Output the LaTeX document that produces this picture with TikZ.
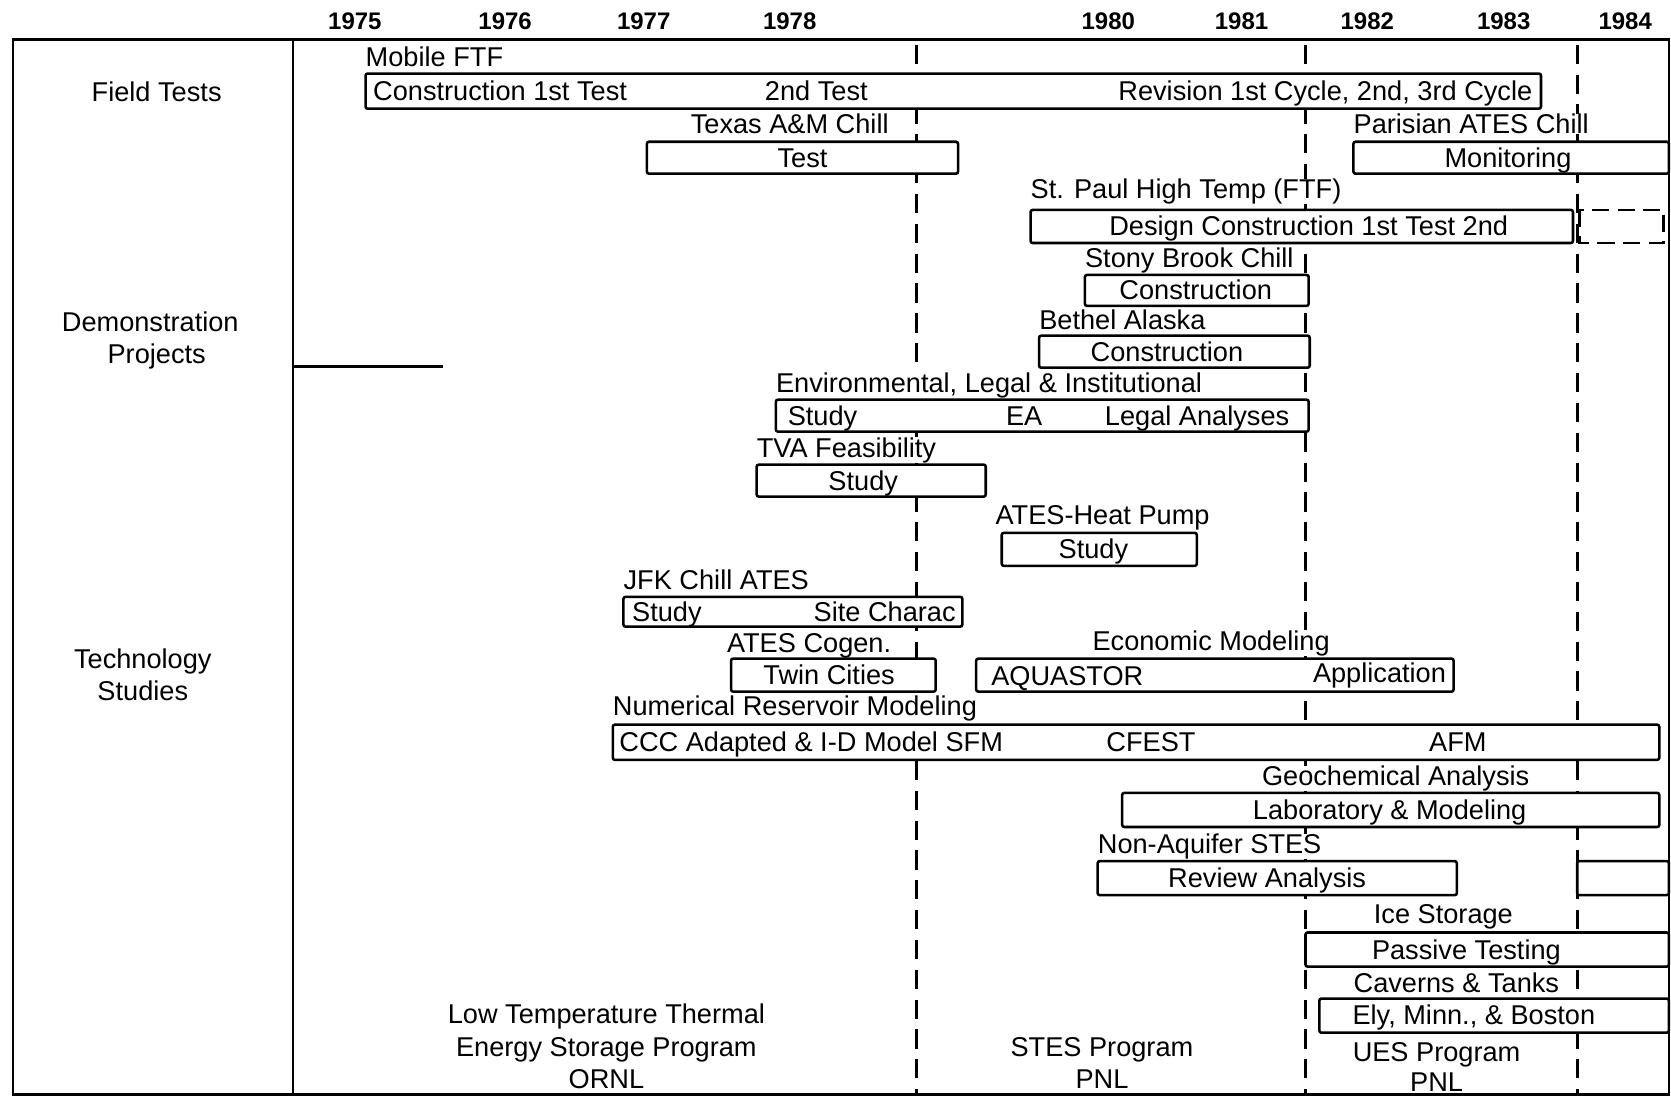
\documentclass[tikz,border=0pt]{standalone}
\usepackage{fontspec}
\setmainfont{Liberation Sans}
\begin{document}
\begin{tikzpicture}[x=1pt,y=-1pt,
  txt/.style={inner sep=0pt, font=\fontsize{25.5}{30}\selectfont},
  lt/.style={txt, anchor=base west},
  ct/.style={txt, anchor=base},
  rt/.style={txt, anchor=base east},
  lab/.style={txt, anchor=base west, fill=white},
  yr/.style={inner sep=0pt, anchor=base, font=\fontsize{22.5}{26}\selectfont\bfseries},
  bar/.style={draw, fill=white, line width=2.4pt, rounded corners=2pt},
  dbar/.style={draw, fill=white, line width=2.4pt, dash pattern=on 16pt off 8pt},
  frame/.style={draw, line width=2.4pt},
  era/.style={draw, line width=2.6pt, dash pattern=on 18pt off 10pt},
]
\useasboundingbox (0,0) rectangle (1568,1029);
\fill[white] (0,0) rectangle (1568,1029);

% years
\node[yr] (y75) at (333,28) {1975};
\node[yr] (y76) at (474,28) {1976};
\node[yr] (y77) at (604,28) {1977};
\node[yr] (y78) at (741,28) {1978};
\node[yr] (y80) at (1040,28) {1980};
\node[yr] (y81) at (1165,28) {1981};
\node[yr] (y82) at (1283,28) {1982};
\node[yr] (y83) at (1411,28) {1983};
\node[yr] (y84) at (1525,28) {1984};

% program boundaries
\coordinate (e1t) at (860,42);  \coordinate (e1b) at (860,1027);
\coordinate (e2t) at (1225,42); \coordinate (e2b) at (1225,1027);
\coordinate (e3t) at (1480,42); \coordinate (e3b) at (1480,1027);
\draw[era] (e1t) -- (e1b);
\draw[era] (e2t) -- (e2b);
\draw[era] (e3t) -- (e3b);

% row labels
\node[ct] (ft) at (147,95) {Field Tests};
\node[ct] (dp1) at (141,311) {Demonstration};
\node[ct] (dp2) at (147,341) {Projects};
\node[ct] (ts1) at (134,627) {Technology};
\node[ct] (ts2) at (134,657) {Studies};

% task titles (drawn before the bars)
\node[lab] (mob) at (343,62) {Mobile FTF};
\node[lab] (tam) at (648,125) {Texas A\&M Chill};
\node[lab] (par) at (1270,125) {Parisian ATES Chill};
\node[lab] (stp) at (967,186) {St. Paul High Temp (FTF)};
\node[lab] (stb) at (1018,251) {Stony Brook Chill};
\node[lab] (bet) at (975,309) {Bethel Alaska};
\node[lab] (env) at (728,368) {Environmental, Legal \& Institutional};
\node[lab] (tva) at (710,429) {TVA Feasibility};
\node[lab] (ahp) at (934,492) {ATES-Heat Pump};
\node[lab] (jfk) at (585,553) {JFK Chill ATES};
\node[lab] (cog) at (682,612) {ATES Cogen.};
\node[lab] (eco) at (1025,610) {Economic Modeling};
\node[lab] (num) at (575,671) {Numerical Reservoir Modeling};
\node[lab] (geo) at (1184,737) {Geochemical Analysis};
\node[lab] (nas) at (1030,801) {Non-Aquifer STES};
\node[lab] (ice) at (1289,867) {Ice Storage};
\node[lab] (cav) at (1270,931) {Caverns \& Tanks};

% Mobile FTF
\draw[bar] (343,69) rectangle (1446,102);
\node[lt] (mob1) at (350,94) {Construction 1st Test};
\node[ct] (mob2) at (766,94) {2nd Test};
\node[rt] (mob3) at (1438,94) {Revision 1st Cycle, 2nd, 3rd Cycle};

% Texas A&M
\draw[bar] (607,133) rectangle (899,163);
\node[ct] (tam1) at (753,157) {Test};

% Parisian
\draw[bar] (1270,133) rectangle (1566,163);
\node[ct] (par1) at (1415,157) {Monitoring};

% St. Paul
\draw[bar] (967,197) rectangle (1476,228);
\draw[dbar] (1482,197) rectangle (1561,228);
\node[ct] (stp1) at (1228,221) {Design Construction 1st Test 2nd};

% Stony Brook
\draw[bar] (1018,258) rectangle (1228,287);
\node[ct] (stb1) at (1122,281) {Construction};

% Bethel
\draw[bar] (975,315) rectangle (1229,345);
\node[ct] (bet1) at (1095,339) {Construction};

% Environmental
\draw[bar] (728,375) rectangle (1228,405);
\node[lt] (env1) at (739,399) {Study};
\node[ct] (env2) at (961,399) {EA};
\node[rt] (env3) at (1210,399) {Legal Analyses};

% TVA
\draw[bar] (710,436) rectangle (925,466);
\node[ct] (tva1) at (810,460) {Study};

% ATES-Heat Pump
\draw[bar] (940,500) rectangle (1123,531);
\node[ct] (ahp1) at (1026,524) {Study};

% JFK
\draw[bar] (585,560) rectangle (903,588);
\node[lt] (jfk1) at (593,583) {Study};
\node[rt] (jfk2) at (897,583) {Site Charac};

% ATES Cogen
\draw[bar] (686,618) rectangle (878,649);
\node[ct] (cog1) at (778,642) {Twin Cities};

% Economic Modeling
\draw[bar] (916,618) rectangle (1364,649);
\node[lt] (eco1) at (930,643) {AQUASTOR};
\node[rt] (eco2) at (1357,640) {Application};

% Numerical
\draw[bar] (575,680) rectangle (1557,713);
\node[lt] (num1) at (581,705) {CCC Adapted \& I-D Model SFM};
\node[ct] (num2) at (1080,705) {CFEST};
\node[ct] (num3) at (1368,705) {AFM};

% Geochemical
\draw[bar] (1053,744) rectangle (1557,776);
\node[ct] (geo1) at (1304,769) {Laboratory \& Modeling};

% Non-Aquifer
\draw[bar] (1030,808) rectangle (1367,840);
\draw[bar] (1480,808) rectangle (1566,840);
\node[ct] (nas1) at (1189,833) {Review Analysis};

% Ice Storage
\draw[bar] (1225,875) rectangle (1566,907);
\node[ct] (ice1) at (1376,900) {Passive Testing};

% Caverns
\draw[bar] (1238,937) rectangle (1566,969);
\node[ct] (cav1) at (1383,961) {Ely, Minn., \& Boston};

% programs
\node[ct] (p1a) at (569,960) {Low Temperature Thermal};
\node[ct] (p1b) at (569,991) {Energy Storage Program};
\node[ct] (p1c) at (569,1021) {ORNL};
\node[ct] (p2a) at (1034,991) {STES Program};
\node[ct] (p2b) at (1034,1021) {PNL};
\node[ct] (p3a) at (1348,996) {UES Program};
\node[ct] (p3b) at (1348,1024) {PNL};

% frame
\coordinate (tl) at (12,37);
\coordinate (br) at (1566,1027);
\draw[frame] (tl) rectangle (br);
\coordinate (dt) at (275,37);
\coordinate (db) at (275,1027);
\draw[frame] (dt) -- (db);
\coordinate (hs) at (275,344);
\coordinate (he) at (416,344);
\draw[frame] (hs) -- (he);
\end{tikzpicture}
\end{document}
